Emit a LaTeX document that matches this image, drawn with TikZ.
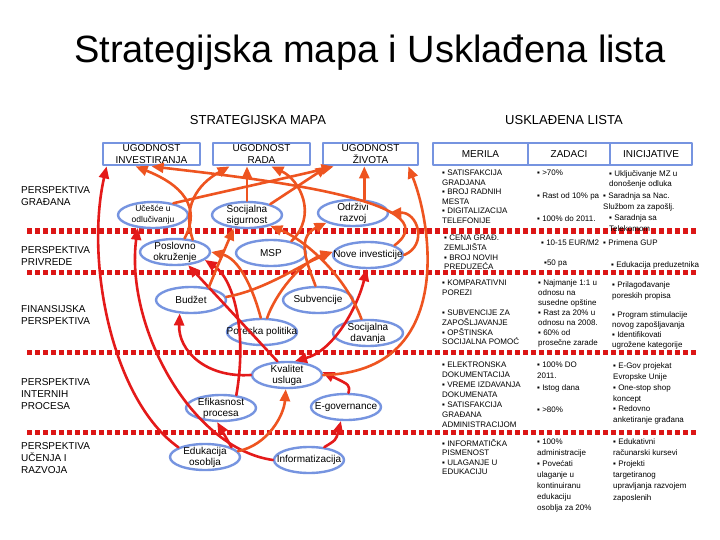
\documentclass[tikz,border=0pt]{standalone}
\usepackage{fontspec}
\setmainfont{Liberation Sans}
\usetikzlibrary{arrows.meta,shapes.geometric}
\definecolor{mapblue}{RGB}{118,148,224}
\definecolor{linkred}{RGB}{228,26,26}
\definecolor{linkorange}{RGB}{238,84,32}
\definecolor{sepred}{RGB}{220,22,22}

\begin{document}
\begin{tikzpicture}[x=1pt, y=-1pt, >={Triangle[length=12pt,width=10pt]}, line cap=round, line join=round,
  goal/.style={draw=mapblue, line width=2.8pt, fill=white, minimum height=22pt, inner sep=0pt, align=center, font=\fontsize{10}{11.5}\selectfont},
  obj/.style={ellipse, draw=mapblue, line width=2.4pt, fill=white, minimum width=70pt, minimum height=26pt, inner xsep=-20pt, inner ysep=-3pt, align=center, font=\fontsize{10}{11}\selectfont},
  persp/.style={anchor=north west, align=left, inner sep=0pt, font=\fontsize{10}{12}\selectfont},
  cell/.style={anchor=north west, align=left, inner sep=0pt, font=\fontsize{8}{#1}\selectfont},
  cell/.default=10,
  rd/.style={->, draw=linkred, line width=2.6pt},
  og/.style={->, draw=linkorange, line width=2.6pt},
  sep/.style={draw=sepred, line width=5pt, dash pattern=on 5.3pt off 2.7pt, line cap=butt}]

\path[fill=white, use as bounding box] (0,0) rectangle (720,540);

\node[anchor=base] (title) at (370,63) {\fontsize{38}{40}\selectfont Strategijska mapa i Usklađena lista};
\node[anchor=base] (smap) at (258,125) {\fontsize{13}{15}\selectfont STRATEGIJSKA MAPA};
\node[anchor=base] (ulist) at (564,125) {\fontsize{13}{15}\selectfont USKLAĐENA LISTA};

\foreach \y in {231,272,352,432}
  \draw[sep] (27,\y) -- (697,\y);

\node[persp] (pgr) at (21,186) {PERSPEKTIVA\\GRAĐANA};
\node[persp] (ppr) at (21,246) {PERSPEKTIVA\\PRIVREDE};
\node[persp] (pfi) at (21,305) {FINANSIJSKA\\PERSPEKTIVA};
\node[persp] (pin) at (21,378) {PERSPEKTIVA\\INTERNIH\\PROCESA};
\node[persp] (puc) at (21,442) {PERSPEKTIVA\\UČENJA I\\RAZVOJA};

\node[goal, minimum width=97pt] (ui) at (151.5,154) {UGODNOST\\INVESTIRANJA};
\node[goal, minimum width=97pt] (ur) at (261.5,154) {UGODNOST\\RADA};
\node[goal, minimum width=95pt] (uz) at (370.5,154) {UGODNOST\\ŽIVOTA};

\node[goal, minimum width=95pt] (mer) at (480.5,154) {MERILA};
\node[goal, minimum width=82pt] (zad) at (569,154) {ZADACI};
\node[goal, minimum width=82pt] (ini) at (651,154) {INICIJATIVE};

\node[obj, font=\fontsize{8.5}{11}\selectfont] (uc) at (153,215) {Učešće u\\odlučivanju};
\node[obj] (ss) at (247,215) {Socijalna\\sigurnost};
\node[obj] (odr) at (353,213) {Održivi\\razvoj};
\node[obj] (po) at (175,252) {Poslovno\\okruženje};
\node[obj] (msp) at (271,253) {MSP};
\node[obj] (ni) at (368,255) {Nove investicije};
\node[obj] (bu) at (191,300) {Budžet};
\node[obj] (sub) at (318,300) {Subvencije};
\node[obj] (pp) at (262,332) {Poreska politika};
\node[obj] (sd) at (368,333) {Socijalna\\davanja};
\node[obj] (kv) at (287,375) {Kvalitet\\usluga};
\node[obj] (ef) at (221,408) {Efikasnost\\procesa};
\node[obj] (eg) at (346,407) {E-governance};
\node[obj] (ed) at (205,457) {Edukacija\\osoblja};
\node[obj] (inf) at (309,460) {Informatizacija};

\draw[rd] (ed.160) .. controls (112,400) and (85,262) .. ([xshift=5pt]ui.south west);
\draw[rd] (inf.west) .. controls (190,448) and (125,325) .. (uc.220);
\draw[rd] (ed.20) -- (ef.255);
\draw[og] (ed.10) .. controls (268,445) and (284,415) .. (kv.265);
\draw[rd] (inf.40) .. controls (336,440) .. (eg.250);
\draw[rd] (eg.80) .. controls (350,385) .. (kv.5);
\draw[rd] (ef.40) .. controls (247,335) and (235,280) .. (po.-15);
\draw[rd] (kv.west) .. controls (205,378) and (178,350) .. (bu.230);
\draw[rd] (kv.125) -- (po.-45);
\draw[rd, <->] (kv.60) .. controls (335,350) and (358,305) .. (ni.265);
\draw[og] (kv.east) .. controls (455,372) and (432,225) .. ([xshift=-11pt]uz.south east);
\draw[og] (ni.east) .. controls (428,245) and (418,212) .. (odr.0);
\draw[og] (ni.20) .. controls (455,200) and (250,178) .. ([xshift=50pt]ui.south west);
\draw[og] (po.55) .. controls (205,200) and (170,180) .. ([xshift=34pt]ui.south west);
\draw[og] (po.35) .. controls (180,200) and (205,180) .. ([xshift=18pt]ur.south west);
\draw[og] (uc.30) .. controls (230,190) and (300,175) .. ([xshift=12pt]uz.south west);
\draw[og] (ss.25) -- ([xshift=6pt]uz.south west);
\draw[og] (ss.north) -- (ss.north |- ur.south);
\draw[og] (odr.50) -- (odr.50 |- uz.south);
\draw[og] (msp.30) .. controls (318,215) and (300,180) .. ([xshift=-40pt]ur.south east);
\draw[og] (sub.100) .. controls (308,265) and (295,238) .. (odr.200);
\draw[og] (bu.35) .. controls (218,265) .. (ss.225);
\draw[og] (sd.115) .. controls (345,275) and (305,240) .. (ss.-25);
\draw[og] (pp.95) .. controls (252,285) and (238,258) .. (po.east);
\draw[og] (pp.70) .. controls (275,295) and (300,262) .. (ni.175);
\draw[og] (bu.5) .. controls (265,290) and (300,265) .. (ni.175);

\node[cell=9.5] (m1) at (442,170) {▪ SATISFAKCIJA\\GRADJANA\\▪ BROJ RADNIH\\MESTA\\▪ DIGITALIZACIJA\\TELEFONIJE};
\node[cell] (z1a) at (537,170) {▪ >70\%};
\node[cell] (z1b) at (537,193) {▪ Rast od 10\% pa};
\node[cell] (z1c) at (537,216) {▪ 100\% do 2011.};
\node[cell=10.5] (i1a) at (609,170) {▪ Uključivanje MZ u\\donošenje odluka};
\node[cell=10.5] (i1b) at (603,193) {▪ Saradnja sa Nac.\\Službom za zapošlj.};
\node[cell=10.5] (i1c) at (609,215) {▪ Saradnja sa\\Telekomom};

\node[cell=9.7] (m2) at (444,235) {▪ CENA GRAĐ.\\ZEMLJIŠTA\\▪ BROJ NOVIH\\PREDUZEĆA};
\node[cell] (z2a) at (541,240) {▪ 10-15 EUR/M2};
\node[cell] (z2b) at (544,260) {▪50 pa};
\node[cell] (i2a) at (603,240) {▪ Primena GUP};
\node[cell] (i2b) at (611,262) {▪ Edukacija preduzetnika};

\node[cell=10] (m3a) at (442,280) {▪ KOMPARATIVNI\\POREZI};
\node[cell=9.7] (m3b) at (442,310) {▪ SUBVENCIJE ZA\\ZAPOŠLJAVANJE\\▪ OPŠTINSKA\\SOCIJALNA POMOĆ};
\node[cell=10] (z3) at (538,280) {▪ Najmanje 1:1 u\\odnosu na\\susedne opštine\\▪ Rast za 20\% u\\odnosu na 2008.\\▪ 60\% od\\prosečne zarade};
\node[cell=10.5] (i3a) at (612,282) {▪ Prilagođavanje\\poreskih propisa};
\node[cell=9.7] (i3b) at (612,312) {▪ Program stimulacije\\novog zapošljavanja\\▪ Identifikovati\\ugrožene kategorije};

\node[cell=9.9] (m4) at (442,362) {▪ ELEKTRONSKA\\DOKUMENTACIJA\\▪ VREME IZDAVANJA\\DOKUMENATA\\▪ SATISFAKCIJA\\GRAĐANA\\ADMINISTRACIJOM};
\node[cell=11] (z4a) at (537,362) {▪ 100\% DO\\2011.};
\node[cell] (z4b) at (537,385) {▪ Istog dana};
\node[cell] (z4c) at (537,407) {▪ >80\%};
\node[cell=10.7] (i4) at (613,363) {▪ E-Gov projekat\\Evropske Unije\\▪ One-stop shop\\koncept\\▪ Redovno\\anketiranje građana};

\node[cell=9.5] (m5) at (442,439) {▪ INFORMATIČKA\\PISMENOST\\▪ ULAGANJE U\\EDUKACIJU};
\node[cell=11] (z5) at (537,439) {▪ 100\%\\administracije\\▪ Povećati\\ulaganje u\\kontinuiranu\\edukaciju\\osoblja za 20\%};
\node[cell=11] (i5) at (613,439) {▪ Edukativni\\računarski kursevi\\▪ Projekti\\targetiranog\\upravljanja razvojem\\zaposlenih};

\end{tikzpicture}
\end{document}
